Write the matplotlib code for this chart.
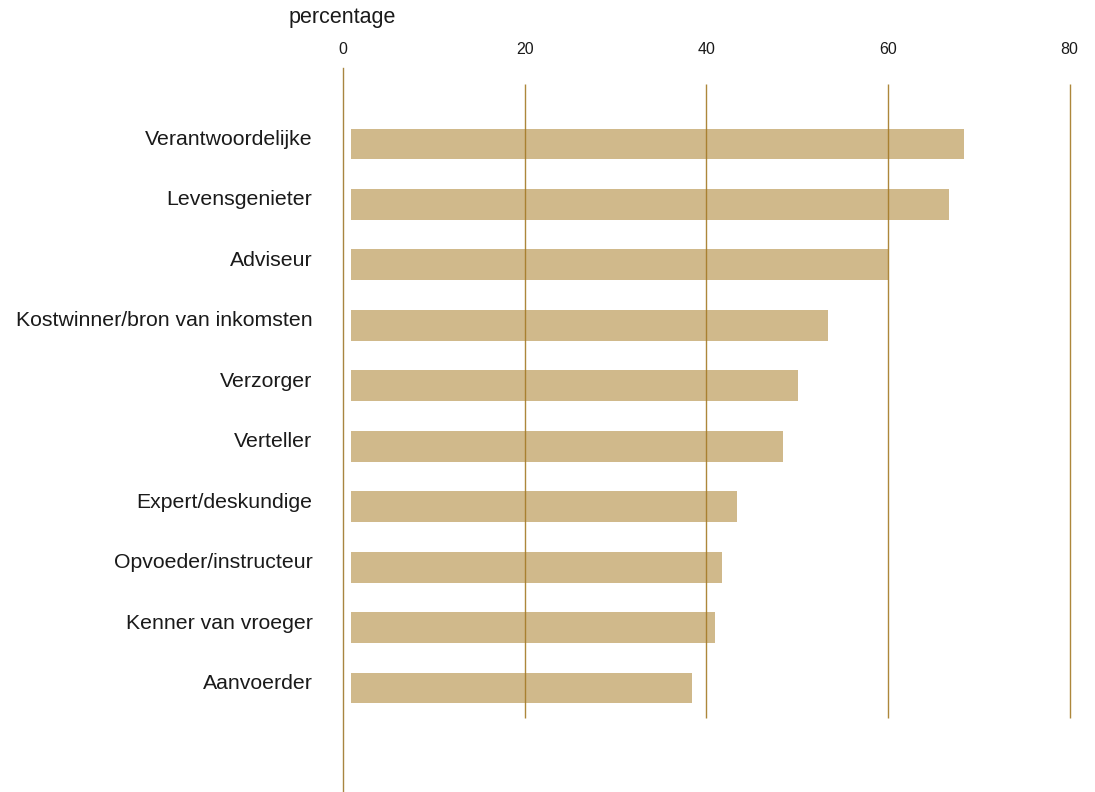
import matplotlib
matplotlib.use("Agg")
import matplotlib.pyplot as plt
import matplotlib.transforms as mtransforms

# Data (top to bottom)
categories = ["Verantwoordelijke", "Levensgenieter", "Adviseur",
              "Kostwinner/bron van inkomsten", "Verzorger", "Verteller",
              "Expert/deskundige", "Opvoeder/instructeur", "Kenner van vroeger",
              "Aanvoerder"]
values = [67.5, 65.9, 59.1, 52.5, 49.2, 47.6, 42.5, 40.9, 40.1, 37.6]
xticks = [0, 20, 40, 60, 80]
axis_title = "percentage"

plt.rcParams["font.family"] = ["Liberation Sans", "DejaVu Sans"]

bar_color = "#d0b98b"
grid_color = "#a47a26"
text_color = "#1a1a1a"

W, H = 1095, 792
fig = plt.figure(figsize=(W / 100, H / 100), dpi=100)
ax = fig.add_axes([343 / W, 0, 726.5 / W, 1 - 68 / H])

# bars are drawn with a small gap after the zero line
bar_trans = mtransforms.offset_copy(ax.transData, fig=fig, x=8, y=0, units="dots")
ypos = list(range(len(categories)))
ax.barh(ypos, values, height=0.51, color=bar_color, transform=bar_trans, zorder=2)

# gridlines (drawn over the bars)
ax.vlines(xticks[1:], -1.0, 9.5, color=grid_color, linewidth=1.0, alpha=0.9,
          zorder=3, clip_on=False)

ax.set_xlim(0, 80)
ax.set_ylim(10.72, -1.257)

ax.xaxis.tick_top()
ax.set_xticks(xticks)
ax.set_xticklabels([str(t) for t in xticks])
ax.tick_params(axis="x", length=0, pad=8, labelsize=11.5, colors=text_color)
ax.set_yticks(ypos)
ax.set_yticklabels(categories)
ax.tick_params(axis="y", length=0, pad=22, labelsize=15.3, colors=text_color)

# category labels sit a little above the bar centre
lift = mtransforms.ScaledTranslation(0, 6.5 / 100, fig.dpi_scale_trans)
for lab in ax.get_yticklabels():
    lab.set_transform(lab.get_transform() + lift)

for side in ["top", "right", "bottom"]:
    ax.spines[side].set_visible(False)
ax.spines["left"].set_color("#a88540")
ax.spines["left"].set_linewidth(1.0)

fig.text(289 / W, 1 - 18 / H, axis_title, fontsize=15.5, color=text_color,
         ha="left", va="center")

fig.savefig("out.png", dpi=100)
